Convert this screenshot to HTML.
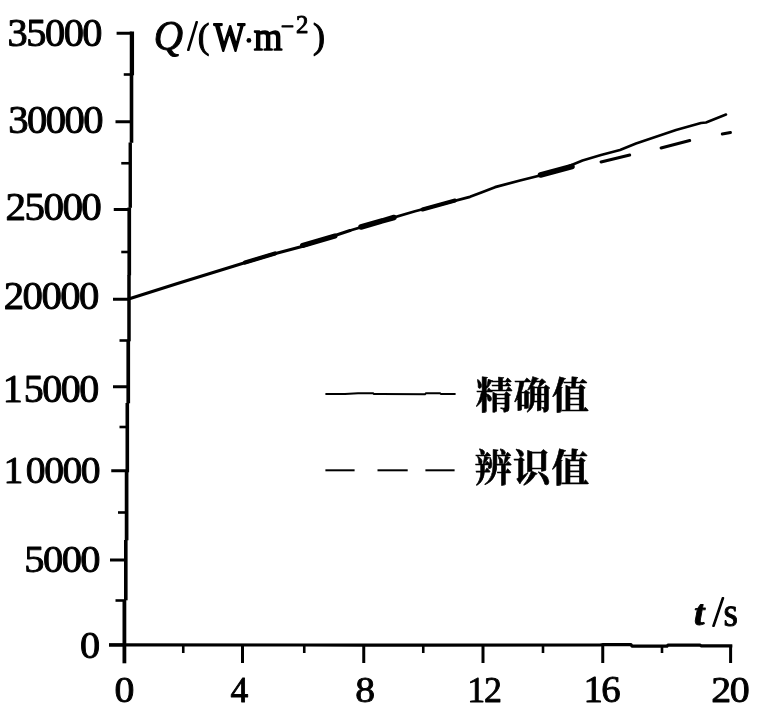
<!DOCTYPE html>
<html><head><meta charset="utf-8"><title>chart</title>
<style>html,body{margin:0;padding:0;background:#fff;}svg{display:block;}text{font-family:"Liberation Serif",serif;fill:#000;stroke:#000;stroke-width:1.0px;stroke-linejoin:round;}</style></head><body>
<svg width="768" height="720" viewBox="0 0 768 720">
<defs><filter id="soft" x="0" y="0" width="768" height="720" filterUnits="userSpaceOnUse"><feGaussianBlur stdDeviation="0.45"/></filter></defs>
<rect width="768" height="720" fill="#fff"/>
<g filter="url(#soft)">
<g stroke="#000" fill="none" stroke-linecap="butt">
</g><g fill="#000">
<rect x="129.75" y="31.5" width="4.3" height="43.80"/>
<rect x="129.70" y="75" width="3.6" height="67.80"/>
<rect x="128.55" y="142.5" width="3.4" height="65.30"/>
<rect x="127.40" y="207.5" width="3.7" height="67.80"/>
<rect x="127.25" y="275" width="3.5" height="66.30"/>
<rect x="126.40" y="341" width="3.7" height="62.30"/>
<rect x="125.50" y="403" width="3.6" height="69.30"/>
<rect x="124.75" y="472" width="3.7" height="68.30"/>
<rect x="124.00" y="540" width="3.6" height="60.30"/>
<rect x="122.50" y="600" width="3.8" height="63.30"/>
</g><g stroke="#000" fill="none" stroke-linecap="butt">
<polyline points="109,644.9 300,645 420,645.2 600,645 603,644.7 631,644.7 632,646.2 667,646.2 668,645 700,645.1 701,645.8 732.3,645.8" stroke-width="3.2" stroke-linejoin="round"/>
<line x1="116.6" y1="33.25" x2="131.90" y2="33.25" stroke-width="3"/>
<line x1="115.5" y1="121.75" x2="131.50" y2="121.75" stroke-width="3"/>
<line x1="113.75" y1="209.5" x2="129.25" y2="209.5" stroke-width="3"/>
<line x1="113" y1="299.25" x2="129.00" y2="299.25" stroke-width="3"/>
<line x1="113" y1="386.75" x2="128.25" y2="386.75" stroke-width="3"/>
<line x1="111.25" y1="470.75" x2="127.30" y2="470.75" stroke-width="3"/>
<line x1="110" y1="560" x2="125.80" y2="560" stroke-width="3"/>
<line x1="109" y1="645" x2="124.40" y2="645" stroke-width="3"/>
<line x1="123.75" y1="74.5" x2="131.90" y2="74.5" stroke-width="2.6"/>
<line x1="121.25" y1="163.25" x2="130.25" y2="163.25" stroke-width="2.6"/>
<line x1="121.25" y1="252" x2="129.25" y2="252" stroke-width="2.6"/>
<line x1="119.5" y1="340.5" x2="129.00" y2="340.5" stroke-width="2.6"/>
<line x1="119.5" y1="427" x2="127.30" y2="427" stroke-width="2.6"/>
<line x1="118" y1="512.5" x2="126.60" y2="512.5" stroke-width="2.6"/>
<line x1="115.5" y1="600.5" x2="124.40" y2="600.5" stroke-width="2.6"/>
<line x1="242.5" y1="645" x2="242.5" y2="663" stroke-width="3"/>
<line x1="363.75" y1="645" x2="363.75" y2="663" stroke-width="3"/>
<line x1="483" y1="645" x2="483" y2="663" stroke-width="3"/>
<line x1="602.75" y1="645" x2="602.75" y2="663" stroke-width="3"/>
<line x1="730.6" y1="645" x2="730.6" y2="663" stroke-width="3"/>
<line x1="183.25" y1="645" x2="183.25" y2="653" stroke-width="2.6"/>
<line x1="304.25" y1="645" x2="304.25" y2="653" stroke-width="2.6"/>
<line x1="423.25" y1="645" x2="423.25" y2="653" stroke-width="2.6"/>
<line x1="543" y1="645" x2="543" y2="653" stroke-width="2.6"/>
<line x1="662" y1="645" x2="662" y2="653" stroke-width="2.6"/>
</g>
<g transform="translate(7.61,45.73) scale(0.9926,0.9733)"><text font-size="42" x="0.00 19.40 38.80 58.20 77.60" y="0" transform="scale(0.97,1)">35000</text></g>
<g transform="translate(8.20,133.34) scale(0.9968,0.9600)"><text font-size="42" x="0.00 19.40 38.80 58.20 77.60" y="0" transform="scale(0.97,1)">30000</text></g>
<g transform="translate(5.49,220.33) scale(1.0080,0.9667)"><text font-size="42" x="0.00 19.40 38.80 58.20 77.60" y="0" transform="scale(0.97,1)">25000</text></g>
<g transform="translate(3.80,308.94) scale(0.9995,0.9550)"><text font-size="42" x="0.00 19.40 38.80 58.20 77.60" y="0" transform="scale(0.97,1)">20000</text></g>
<g transform="translate(5.32,401.55) scale(0.9819,0.9533)"><text font-size="42" x="-2.60 19.40 38.80 58.20 77.60" y="0" transform="scale(0.97,1)">15000</text></g>
<g transform="translate(7.57,483.29) scale(0.9729,0.9067)"><text font-size="42" x="-4.40 19.40 38.80 58.20 77.60" y="0" transform="scale(0.97,1)">10000</text></g>
<g transform="translate(24.31,572.08) scale(0.9932,0.9167)"><text font-size="42" x="0.00 19.40 38.80 58.20" y="0" transform="scale(0.97,1)">5000</text></g>
<g transform="translate(80.01,657.86) scale(0.9889,0.8917)"><text font-size="42" x="0.00" y="0" transform="scale(0.97,1)">0</text></g>
<g transform="translate(114.42,702.15) scale(0.9778,0.8500)"><text font-size="42" x="0.00" y="0" transform="scale(0.97,1)">0</text></g>
<g transform="translate(230.50,701.96) scale(0.8750,0.8433)"><text font-size="42" x="0.00" y="0" transform="scale(0.97,1)">4</text></g>
<g transform="translate(355.28,701.92) scale(0.9722,0.8767)"><text font-size="42" x="0.00" y="0" transform="scale(0.97,1)">8</text></g>
<g transform="translate(467.35,701.75) scale(0.8824,0.8533)"><text font-size="42" x="0.00 19.40" y="0" transform="scale(0.97,1)">12</text></g>
<g transform="translate(583.39,702.21) scale(0.9529,0.8867)"><text font-size="42" x="0.00 19.40" y="0" transform="scale(0.97,1)">16</text></g>
<g transform="translate(711.27,701.95) scale(0.9797,0.8500)"><text font-size="42" x="0.00 19.40" y="0" transform="scale(0.97,1)">20</text></g>
<g transform="translate(153.80,50.00) scale(1.0500,0.9861)"><text font-size="42" x="0" y="0" transform="scale(0.92,1)" font-style="italic" style="stroke-width:1px">Q</text></g>
<g transform="translate(188.79,50.25) scale(0.6306,0.9950)"><text font-size="42" x="0" y="0" transform="scale(0.92,1)" font-style="italic" style="stroke-width:2.2px">/</text></g>
<g transform="translate(197.84,47.79) scale(0.9091,0.8463)"><text font-size="42" x="0" y="0" transform="scale(0.92,1)" style="stroke-width:1.2px">(</text></g>
<g transform="translate(213.86,50.41) scale(0.8553,0.9452)"><text font-size="42" x="0" y="0" transform="scale(0.92,1)" style="stroke-width:1.9px">W</text></g>
<g transform="translate(253.75,50.37) scale(0.9550,0.9286)"><text font-size="42" x="0" y="0" transform="scale(0.92,1)" style="stroke-width:1.6px">m</text></g>
<g transform="translate(280.64,34.07) scale(0.9583,0.8667)"><text font-size="27" x="0" y="0" transform="scale(0.92,1)" >−</text></g>
<g transform="translate(296.10,33.11) scale(1.0000,0.8950)"><text font-size="27" x="0" y="0" transform="scale(0.92,1)" style="stroke-width:1px">2</text></g>
<g transform="translate(313.06,48.14) scale(0.9364,0.8713)"><text font-size="42" x="0" y="0" transform="scale(0.92,1)" style="stroke-width:1.2px">)</text></g>
<g transform="translate(694.02,624.92) scale(0.9773,0.8769)"><text font-size="42" x="0" y="0" transform="scale(0.92,1)" font-style="italic" font-weight="bold">t</text></g>
<g transform="translate(714.12,626.00) scale(0.7059,1.0000)"><text font-size="42" x="0" y="0" transform="scale(0.92,1)" font-style="italic" style="stroke-width:1.8px">/</text></g>
<g transform="translate(723.54,626.07) scale(0.9615,0.9286)"><text font-size="42" x="0" y="0" transform="scale(0.92,1)" style="stroke-width:1px">s</text></g>
<circle cx="248.9" cy="40.4" r="2.4" fill="#000"/>
<polyline fill="none" stroke="#000" stroke-width="3.1" stroke-linejoin="round" stroke-linecap="round" points="128.6,299 177.5,283.6 235,265.7 270,255 302,246.5 350,230.5"/>
<polyline fill="none" stroke="#000" stroke-width="2.8" stroke-linejoin="round" stroke-linecap="round" points="350,230.5 415,211.25 470,196.8 482,192.2 495,187.2 520,180.5 556,171.5"/>
<polyline fill="none" stroke="#000" stroke-width="2.5" stroke-linejoin="round" stroke-linecap="round" points="556,171.5 582.5,160.5 601,155 620,150 636,143.5 676,130 701,123 706,122.5 726,114.5"/>
<line x1="245" y1="262.5" x2="275" y2="253.5" stroke="#000" stroke-width="4.2" stroke-linecap="round"/>
<line x1="302.5" y1="245.5" x2="335" y2="236" stroke="#000" stroke-width="5" stroke-linecap="round"/>
<line x1="361" y1="227" x2="394" y2="217.5" stroke="#000" stroke-width="5.5" stroke-linecap="round"/>
<line x1="422.5" y1="209.5" x2="455" y2="200.5" stroke="#000" stroke-width="4" stroke-linecap="round"/>
<line x1="540.5" y1="175" x2="572" y2="166.5" stroke="#000" stroke-width="5.5" stroke-linecap="round"/>
<line x1="601" y1="162" x2="629.75" y2="155" stroke="#000" stroke-width="2.9" stroke-linecap="round"/>
<line x1="661" y1="148" x2="689.75" y2="140.5" stroke="#000" stroke-width="2.9" stroke-linecap="round"/>
<line x1="722.25" y1="134" x2="730.5" y2="132.5" stroke="#000" stroke-width="2.9" stroke-linecap="round"/>
<polyline fill="none" stroke="#000" stroke-width="2" points="325.4,394 345,394 358,393.3 373,393.2 374,394.1 425,394.2 426,393.3 440,393.3 441,394 455.6,394"/>
<line x1="325.4" y1="470.3" x2="354.6" y2="470.3" stroke="#000" stroke-width="2"/>
<line x1="377.5" y1="470.3" x2="407.7" y2="470.3" stroke="#000" stroke-width="2"/>
<line x1="425.4" y1="470.3" x2="454.6" y2="470.3" stroke="#000" stroke-width="2"/>
<text x="475.76 513.69 551.83" y="408.73" font-size="37" font-weight="bold" style="font-family:'Liberation Serif','Noto Serif CJK SC',serif;stroke-width:0.6px">精确值</text>
<text x="474.61 512.84 551.53" y="480.86" font-size="37.5" font-weight="bold" style="font-family:'Liberation Serif','Noto Serif CJK SC',serif;stroke-width:0.6px">辨识值</text>
</g>
</svg></body></html>
